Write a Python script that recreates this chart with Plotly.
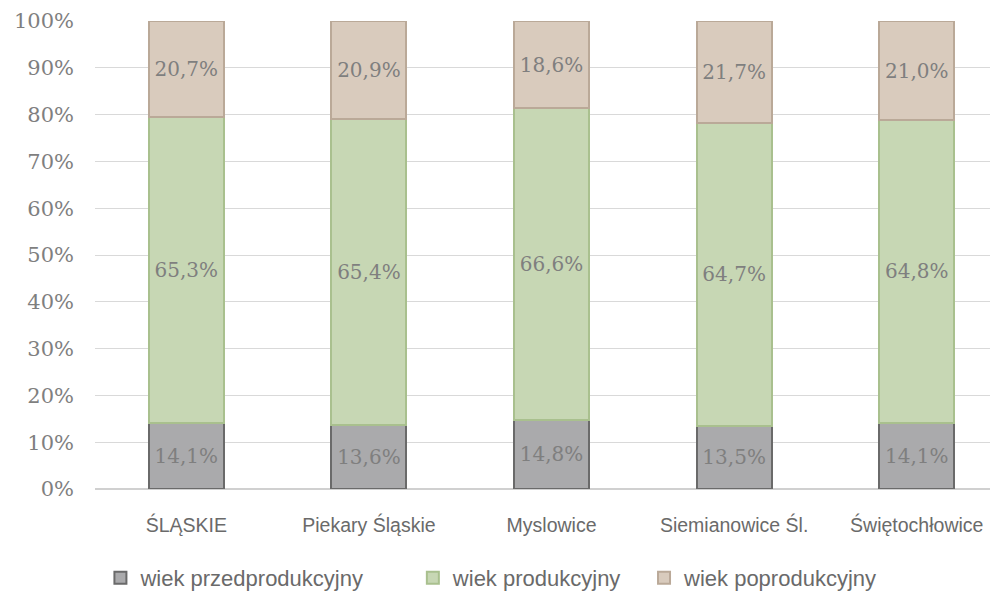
import plotly.graph_objects as go

categories = ["ŚLĄSKIE", "Piekary Śląskie", "Myslowice", "Siemianowice Śl.", "Świętochłowice"]
przed = [14.1, 13.6, 14.8, 13.5, 14.1]
prod = [65.3, 65.4, 66.6, 64.7, 64.8]
poprod = [20.7, 20.9, 18.6, 21.7, 21.0]
series_names = ["wiek przedprodukcyjny", "wiek produkcyjny", "wiek poprodukcyjny"]
y_ticks = [0, 10, 20, 30, 40, 50, 60, 70, 80, 90, 100]

fills = ["#aaaaac", "#c7d7b4", "#d9cbbd"]
borders = ["#6a6a6a", "#a9c08e", "#baa998"]
legend_ids = ["legend", "legend2", "legend3"]
legend_x = [0.006, 0.352, 0.608]

W, H = 990, 588
L, T, B, R = 87, 13, 107, 0

fig = go.Figure()
for name, vals, fc, bc, lid in zip(series_names, [przed, prod, poprod], fills, borders, legend_ids):
    fig.add_trace(go.Bar(
        x=categories, y=vals, name=name, legend=lid,
        marker=dict(color=fc, line=dict(color=bc, width=2)),
        text=[f"{v:.1f}%".replace(".", ",") for v in vals],
        textposition="inside", insidetextanchor="middle",
        textfont=dict(family="DejaVu Serif, Liberation Serif, serif", size=20, color="#7f7f7f"),
        constraintext="none",
        hoverinfo="skip",
    ))

legend_font = dict(family="Liberation Sans Narrow, Liberation Sans, sans-serif", size=22, color="#6a6a6a")
leg_common = dict(orientation="h", y=-0.19, yanchor="middle", xanchor="left",
                  font=legend_font, itemwidth=30, bgcolor="rgba(0,0,0,0)")

fig.update_layout(
    barmode="stack",
    bargap=0.59,
    width=W, height=H,
    margin=dict(l=L, r=R, t=T, b=B, autoexpand=False),
    plot_bgcolor="white", paper_bgcolor="white",
    showlegend=True,
    legend=dict(x=legend_x[0], **leg_common),
    legend2=dict(x=legend_x[1], **leg_common),
    legend3=dict(x=legend_x[2], **leg_common),
    xaxis=dict(range=[-0.5, 4.445], showgrid=False, showline=False, ticks="", automargin=False,
               tickfont=dict(family="Liberation Sans Narrow, Liberation Sans, sans-serif", size=19.5, color="#6a6a6a"),
               ticklabelstandoff=22),
    yaxis=dict(range=[0, 100], tickvals=y_ticks, ticktext=[f"{t}%" for t in y_ticks], automargin=False,
               showgrid=True, gridcolor="#d9d9d9", gridwidth=1, zeroline=True, zerolinecolor="#d0d0d0",
               ticks="", tickfont=dict(family="DejaVu Serif, Liberation Serif, serif", size=21, color="#7f7f7f"),
               ticklabelstandoff=20),
)

fig.write_html("out.html")
